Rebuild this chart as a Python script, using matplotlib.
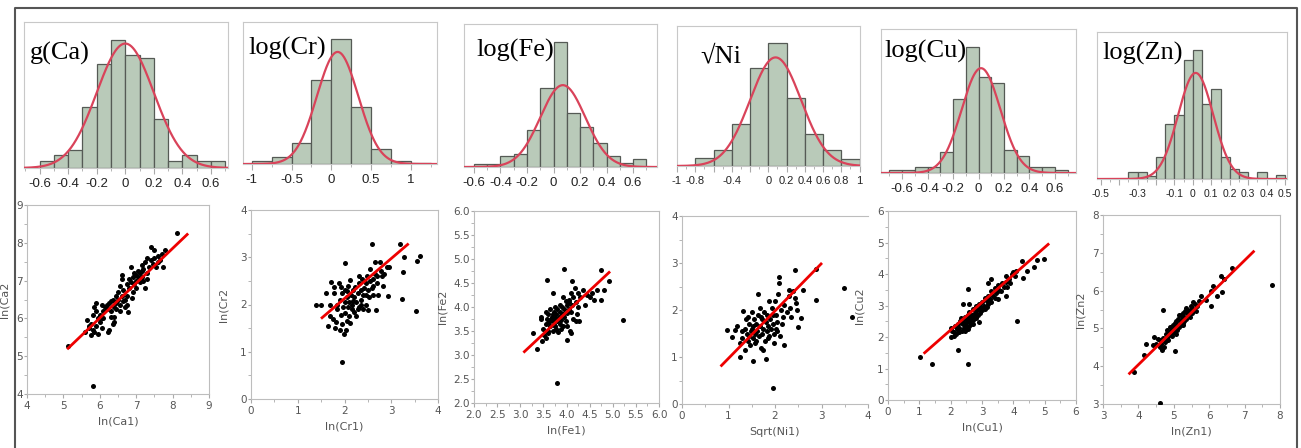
import numpy as np
import matplotlib
matplotlib.use("Agg")
import matplotlib.pyplot as plt
from matplotlib.ticker import MultipleLocator

# ---- histogram data (relative bar heights) ----
hist_titles = ["g(Ca)", "log(Cr)", "log(Fe)", "\u221aNi", "log(Cu)", "log(Zn)"]
hist_bin_start = [-0.6, -1.0, -0.6, -0.8, -0.7, -0.35]
hist_bin_width = [0.1, 0.25, 0.1, 0.2, 0.1, 0.05]
ca_hist = [20, 40, 55, 185, 312, 385, 340, 332, 148, 20, 40, 20, 20]
cr_hist = [9, 20, 62, 252, 375, 170, 46, 9, 4]
fe_hist = [8, 8, 32, 38, 110, 237, 375, 162, 120, 72, 32, 13, 24]
ni_hist = [25, 49, 127, 292, 369, 204, 97, 49, 20]
cu_hist = [10, 10, 18, 18, 63, 220, 376, 286, 268, 70, 51, 18, 18, 10]
zn_hist = [22, 22, 10, 65, 165, 192, 359, 387, 225, 272, 65, 29, 22, 0, 22, 0, 12]
hist_heights = [ca_hist, cr_hist, fe_hist, ni_hist, cu_hist, zn_hist]
# fitted normal curves
norm_mu = [0.0, 0.08, 0.07, 0.08, 0.02, 0.015]
norm_sigma = [0.2, 0.26, 0.17, 0.28, 0.152, 0.095]
norm_peak = [375, 337, 245, 325, 313, 319]
hist_xlim = [(-0.71, 0.72), (-1.11, 1.33), (-0.675, 0.78), (-1.0, 1.005), (-0.765, 0.765), (-0.52, 0.51)]
hist_ytop = [440, 427, 428, 419, 430, 442]
hist_ticks = [
    [-0.6, -0.4, -0.2, 0, 0.2, 0.4, 0.6],
    [-1, -0.5, 0, 0.5, 1],
    [-0.6, -0.4, -0.2, 0, 0.2, 0.4, 0.6],
    [-1, -0.8, -0.6, -0.4, -0.2, 0, 0.2, 0.4, 0.6, 0.8, 1],
    [-0.6, -0.4, -0.2, 0, 0.2, 0.4, 0.6],
    [-0.5, -0.4, -0.3, -0.2, -0.1, 0, 0.1, 0.2, 0.3, 0.4, 0.5],
]
hist_ticklabels = [
    ["-0.6", "-0.4", "-0.2", "0", "0.2", "0.4", "0.6"],
    ["-1", "-0.5", "0", "0.5", "1"],
    ["-0.6", "-0.4", "-0.2", "0", "0.2", "0.4", "0.6"],
    ["-1", "-0.8", "", "-0.4", "", "0", "0.2", "0.4", "0.6", "0.8", "1"],
    ["-0.6", "-0.4", "-0.2", "0", "0.2", "0.4", "0.6"],
    ["-0.5", "", "-0.3", "", "-0.1", "0", "0.1", "0.2", "0.3", "0.4", "0.5"],
]
hist_tick_size = [9.5, 9.5, 9.5, 8, 9.5, 7.5]

# ---- scatter data ----
ca_pts = [(5.13, 5.26), (5.82, 4.2), (8.12, 8.25), (5.6, 5.65), (5.65, 5.95), (5.7, 5.75), (5.75, 5.85),
          (5.8, 5.7), (5.8, 6.1), (5.85, 6.3), (5.85, 5.65), (5.9, 6.4), (5.9, 5.8), (5.95, 6.0), (5.95, 5.6),
          (6.0, 5.9), (6.0, 6.1), (6.05, 6.35), (6.05, 5.75), (6.1, 6.2), (6.1, 6.0), (6.15, 6.3), (6.2, 6.25),
          (6.22, 5.65), (6.25, 5.7), (6.25, 6.4), (6.3, 6.2), (6.3, 6.05), (6.35, 6.5), (6.35, 5.85), (6.4, 5.9),
          (6.4, 6.3), (6.45, 6.6), (6.45, 6.4), (6.5, 6.5), (6.5, 6.7), (6.55, 6.35), (6.55, 6.85), (6.6, 6.6),
          (6.6, 7.15), (6.6, 7.05), (6.65, 6.75), (6.7, 6.5), (6.7, 6.3), (6.75, 6.9), (6.75, 6.6), (6.78, 6.18),
          (6.8, 6.8), (6.85, 6.95), (6.85, 7.35), (6.9, 7.1), (6.9, 6.7), (6.95, 6.9), (7.0, 7.0), (7.0, 6.8),
          (7.05, 7.25), (7.05, 7.1), (7.1, 7.2), (7.1, 6.95), (7.15, 7.4), (7.15, 7.1), (7.2, 7.3), (7.2, 7.0),
          (7.25, 7.5), (7.25, 6.8), (7.3, 7.6), (7.3, 7.2), (7.35, 7.35), (7.4, 7.9), (7.4, 7.55), (7.45, 7.45),
          (7.5, 7.6), (7.5, 7.8), (7.55, 7.35), (7.6, 7.65), (7.65, 7.55), (7.7, 7.7), (7.75, 7.35), (7.8, 7.8),
          (6.2, 6.35), (6.05, 6.0), (5.9, 6.2), (6.3, 6.45), (6.45, 6.25), (6.65, 6.45), (7.0, 7.15), (7.15, 7.25),
          (6.95, 7.2), (6.8, 7.05), (5.7, 5.8), (5.75, 5.55), (6.4, 6.05), (6.55, 6.2), (6.75, 6.35), (6.88, 6.55),
          (7.3, 7.05), (7.6, 7.5)]
cr_pts = [(1.4, 2.0), (1.5, 2.0), (1.94, 0.78), (2.58, 3.28), (3.18, 3.28), (2.02, 2.87), (3.22, 2.12),
          (3.25, 2.68), (3.28, 3.0), (3.52, 1.87), (3.55, 2.92), (3.62, 3.02), (2.68, 1.88), (2.92, 2.18),
          (2.9, 2.8), (2.95, 2.8), (1.65, 1.55), (1.7, 1.75), (1.72, 2.48), (1.75, 1.7), (1.78, 2.25), (1.8, 1.5),
          (1.82, 1.62), (1.85, 2.0), (1.85, 1.9), (1.88, 2.45), (1.9, 1.45), (1.9, 2.1), (1.92, 2.38), (1.93, 1.78),
          (1.95, 1.58), (1.95, 2.25), (1.97, 1.95), (1.98, 1.38), (2.0, 1.82), (2.0, 2.05), (2.02, 2.3),
          (2.03, 1.45), (2.05, 1.65), (2.05, 2.15), (2.07, 1.95), (2.08, 2.4), (2.1, 2.05), (2.1, 1.75),
          (2.12, 2.52), (2.13, 2.2), (2.15, 1.9), (2.15, 2.0), (2.18, 2.3), (2.2, 1.85), (2.2, 2.15), (2.22, 2.38),
          (2.25, 2.05), (2.25, 1.75), (2.28, 2.25), (2.3, 2.6), (2.3, 1.95), (2.32, 2.45), (2.35, 2.1), (2.35, 2.3),
          (2.38, 2.55), (2.4, 1.9), (2.4, 2.2), (2.42, 2.35), (2.45, 2.45), (2.45, 2.0), (2.48, 2.6), (2.5, 2.3),
          (2.5, 1.88), (2.52, 2.15), (2.55, 2.5), (2.55, 2.75), (2.58, 2.35), (2.6, 2.2), (2.62, 2.55),
          (2.65, 2.65), (2.65, 2.9), (2.7, 2.45), (2.7, 2.6), (2.72, 2.2), (2.75, 2.9), (2.78, 2.7), (2.8, 2.6),
          (2.82, 2.4), (2.85, 2.65), (1.6, 2.25), (1.68, 2.0), (1.78, 2.38), (2.06, 2.28), (2.18, 2.08),
          (2.28, 1.9), (2.36, 2.0), (2.46, 2.2), (2.6, 2.4), (2.12, 1.6)]
fe_pts = [(3.8, 2.42), (5.22, 3.73), (3.95, 4.8), (3.58, 4.57), (4.92, 4.55), (4.75, 4.77), (3.37, 3.12),
          (3.28, 3.45), (4.0, 3.32), (4.75, 4.14), (4.8, 4.35), (3.48, 3.3), (3.7, 4.3), (3.45, 3.75),
          (3.45, 3.8), (3.5, 3.55), (3.52, 3.42), (3.55, 3.65), (3.55, 3.9), (3.58, 3.75), (3.6, 3.5), (3.6, 3.85),
          (3.62, 3.68), (3.65, 3.6), (3.65, 3.95), (3.68, 3.8), (3.7, 3.5), (3.7, 3.7), (3.72, 3.9), (3.73, 3.62),
          (3.75, 3.78), (3.75, 4.0), (3.78, 3.55), (3.78, 3.85), (3.8, 3.7), (3.8, 3.95), (3.82, 3.48),
          (3.83, 3.8), (3.85, 3.65), (3.85, 4.05), (3.87, 3.9), (3.88, 3.72), (3.9, 3.85), (3.9, 4.0), (3.92, 3.6),
          (3.93, 4.2), (3.95, 3.8), (3.95, 3.95), (3.98, 3.7), (4.0, 4.05), (4.0, 3.88), (4.02, 3.6), (4.05, 4.15),
          (4.05, 3.95), (4.08, 3.5), (4.1, 4.3), (4.1, 3.9), (4.12, 4.05), (4.15, 4.2), (4.15, 3.75), (4.18, 4.4),
          (4.2, 4.1), (4.22, 3.85), (4.25, 4.3), (4.25, 4.0), (4.28, 3.7), (4.3, 4.2), (4.35, 4.35), (4.4, 4.05),
          (4.45, 4.25), (4.5, 4.2), (4.55, 4.3), (4.6, 4.15), (4.65, 4.35), (4.12, 4.55), (3.55, 3.35),
          (3.6, 3.45), (3.7, 3.85), (3.92, 3.85), (4.06, 4.1), (3.98, 4.12), (4.1, 3.45), (4.2, 3.7),
          (3.65, 3.72), (3.75, 3.6), (3.88, 3.55)]
ni_pts = [(1.96, 0.33), (3.48, 2.47), (3.65, 1.85), (2.43, 2.85), (2.88, 2.88), (2.88, 2.22), (0.97, 1.57),
          (1.08, 1.43), (1.25, 0.99), (1.52, 0.92), (1.8, 0.96), (2.2, 1.26), (2.5, 1.64), (2.55, 1.83),
          (2.6, 2.42), (2.08, 2.7), (2.08, 2.57), (1.63, 2.35), (1.15, 1.57), (1.18, 1.65), (1.25, 1.3),
          (1.28, 1.55), (1.3, 1.4), (1.32, 1.97), (1.35, 1.6), (1.35, 1.15), (1.38, 1.8), (1.4, 1.5), (1.42, 1.35),
          (1.43, 1.85), (1.45, 1.7), (1.47, 1.25), (1.48, 1.55), (1.5, 1.95), (1.52, 1.4), (1.53, 1.65),
          (1.55, 1.8), (1.57, 1.5), (1.58, 1.3), (1.6, 1.7), (1.62, 1.55), (1.63, 1.9), (1.65, 1.45), (1.67, 2.05),
          (1.68, 1.65), (1.7, 1.2), (1.72, 1.8), (1.73, 1.5), (1.75, 1.6), (1.77, 1.95), (1.78, 1.35), (1.8, 1.75),
          (1.82, 1.55), (1.83, 1.9), (1.85, 1.65), (1.87, 2.2), (1.88, 1.45), (1.9, 1.8), (1.92, 1.6), (1.93, 2.05),
          (1.95, 1.7), (1.97, 1.3), (1.98, 1.5), (2.0, 2.2), (2.02, 1.9), (2.03, 1.6), (2.05, 1.75), (2.07, 2.35),
          (2.1, 1.45), (2.12, 2.0), (2.15, 1.7), (2.18, 1.85), (2.2, 2.1), (2.25, 1.95), (2.3, 2.3), (2.32, 2.05),
          (2.35, 1.85), (2.38, 2.4), (2.42, 2.25), (2.45, 2.15), (2.48, 2.0), (2.3, 2.42), (1.75, 1.15),
          (1.7, 1.85), (1.6, 1.35), (1.45, 1.45), (1.5, 1.6), (1.85, 1.4), (1.95, 1.9), (2.05, 1.55)]
cu_pts = [(1.03, 1.38), (1.4, 1.13), (2.55, 1.14), (2.22, 1.58), (4.12, 2.5), (2.56, 3.53), (2.4, 3.04),
          (2.58, 3.06), (4.98, 4.48), (4.75, 4.43), (4.65, 4.23), (4.3, 3.88), (4.28, 4.42), (4.45, 4.08),
          (2.02, 2.0), (2.1, 2.02), (2.9, 2.48), (3.3, 3.85), (3.2, 3.7), (2.0, 2.3), (2.05, 2.2), (2.1, 2.15),
          (2.15, 2.35), (2.18, 2.1), (2.2, 2.25), (2.22, 2.4), (2.25, 2.15), (2.28, 2.3), (2.3, 2.5), (2.32, 2.6),
          (2.35, 2.2), (2.38, 2.4), (2.4, 2.55), (2.42, 2.3), (2.45, 2.65), (2.48, 2.45), (2.5, 2.35),
          (2.52, 2.55), (2.55, 2.7), (2.55, 2.25), (2.58, 2.5), (2.6, 2.8), (2.62, 2.6), (2.65, 2.4), (2.68, 2.7),
          (2.7, 2.55), (2.72, 2.9), (2.75, 2.65), (2.78, 2.75), (2.8, 3.0), (2.82, 2.6), (2.85, 2.85), (2.88, 2.7),
          (2.9, 3.05), (2.92, 2.9), (2.95, 2.75), (3.0, 3.1), (3.0, 2.85), (3.05, 3.0), (3.08, 3.25), (3.1, 2.9),
          (3.15, 3.15), (3.18, 3.05), (3.2, 3.3), (3.25, 3.2), (3.3, 3.45), (3.3, 3.1), (3.35, 3.3), (3.4, 3.55),
          (3.45, 3.4), (3.5, 3.65), (3.5, 3.2), (3.55, 3.5), (3.6, 3.45), (3.65, 3.7), (3.7, 3.6), (3.75, 3.95),
          (3.78, 3.75), (3.8, 3.6), (3.85, 3.85), (3.9, 3.7), (3.95, 4.0), (4.0, 4.05), (4.05, 3.95), (4.1, 4.1),
          (3.78, 3.3), (3.5, 3.45), (2.7, 2.4), (2.45, 2.2), (2.35, 2.45), (3.15, 2.95), (2.98, 2.95),
          (2.6, 2.35), (3.4, 3.25)]
zn_pts = [(4.62, 3.03), (7.78, 6.15), (3.88, 3.85), (4.7, 5.48), (5.03, 4.4), (6.65, 6.6), (6.33, 6.38),
          (6.35, 5.95), (6.1, 6.12), (6.05, 6.0), (6.22, 5.85), (6.05, 5.6), (5.9, 5.75), (5.78, 5.85),
          (4.15, 4.3), (4.22, 4.58), (4.4, 4.55), (4.68, 4.42), (4.62, 4.5), (4.45, 4.78), (6.42, 6.3),
          (4.5, 4.6), (4.55, 4.72), (4.6, 4.68), (4.65, 4.58), (4.7, 4.75), (4.75, 4.65), (4.78, 4.85), (4.8, 4.75),
          (4.82, 4.95), (4.85, 4.8), (4.88, 4.9), (4.9, 5.05), (4.92, 4.85), (4.95, 4.95), (4.97, 5.1), (5.0, 4.9),
          (5.0, 5.05), (5.03, 5.15), (5.05, 5.0), (5.07, 4.85), (5.1, 5.1), (5.12, 5.25), (5.15, 5.05),
          (5.17, 5.2), (5.2, 5.35), (5.2, 5.1), (5.22, 5.25), (5.25, 5.4), (5.27, 5.15), (5.3, 5.3), (5.32, 5.45),
          (5.35, 5.25), (5.37, 5.4), (5.4, 5.5), (5.42, 5.35), (5.45, 5.45), (5.48, 5.6), (5.5, 5.4), (5.52, 5.55),
          (5.55, 5.7), (5.58, 5.5), (5.6, 5.65), (5.62, 5.45), (5.65, 5.6), (5.7, 5.72), (5.05, 5.2), (4.95, 4.8),
          (5.15, 5.35), (5.25, 5.1), (4.85, 4.7), (5.35, 5.55), (5.45, 5.3), (4.72, 4.5), (5.1, 4.95), (5.3, 5.2)]
scatter_pts = [ca_pts, cr_pts, fe_pts, ni_pts, cu_pts, zn_pts]
# regression line end points
fit_x = [(5.13, 8.40), (1.52, 3.35), (3.09, 4.92), (0.85, 2.99), (1.17, 5.11), (3.75, 7.25)]
fit_y = [(5.21, 8.22), (1.72, 3.27), (3.07, 4.72), (0.82, 2.98), (1.50, 4.94), (3.81, 7.03)]
scatter_lim = [(4, 9), (0, 4), (2, 6), (0, 4), (0, 6), (3, 8)]
scatter_major = [1, 1, 0.5, 1, 1, 1]
x_labels = ["ln(Ca1)", "ln(Cr1)", "ln(Fe1)", "Sqrt(Ni1)", "ln(Cu1)", "ln(Zn1)"]
y_labels = ["ln(Ca2", "ln(Cr2", "ln(Fe2", "", "ln(Cu2", "ln(Zn2"]

W, H = 1301, 448
fig = plt.figure(figsize=(W / 100, H / 100), dpi=100)


def px_axes(l, r, t, b):
    return fig.add_axes([l / W, 1 - b / H, (r - l) / W, (b - t) / H])


hist_box = [(24, 228, 22, 168), (243, 437, 22, 164), (464, 657, 24, 167),
            (677, 860, 26, 166), (881, 1076, 29, 173), (1097, 1287, 32, 179)]
title_pos = [(0.03, 0.74), (0.026, 0.77), (0.062, 0.77), (0.126, 0.74), (0.02, 0.80), (0.03, 0.81)]
scat_box = [(27, 209, 205, 394), (251, 438, 210, 399), (474, 659, 211, 403),
            (682, 868, 216, 404), (888, 1076, 211, 400), (1103, 1280, 215, 404)]
ylab_x = [-17, -22, -26, -20, -24, -18]

for i in range(6):
    # histogram with fitted normal curve
    ax = px_axes(*hist_box[i])
    h = hist_heights[i]
    edges = hist_bin_start[i] + hist_bin_width[i] * np.arange(len(h))
    ax.bar(edges, h, width=hist_bin_width[i], align='edge', color='#b9cab9',
           edgecolor='#555a55', linewidth=0.9, zorder=2)
    xs = np.linspace(hist_xlim[i][0], hist_xlim[i][1], 400)
    ys = norm_peak[i] * np.exp(-0.5 * ((xs - norm_mu[i]) / norm_sigma[i]) ** 2)
    ax.plot(xs, ys, color='#d9435a', linewidth=1.6, zorder=3)
    ax.set_xlim(hist_xlim[i])
    ax.set_ylim(0, hist_ytop[i])
    ax.set_yticks([])
    ax.set_xticks(hist_ticks[i])
    ax.set_xticklabels(hist_ticklabels[i], fontfamily='Liberation Sans',
                       fontsize=hist_tick_size[i], color='#222222')
    ax.xaxis.set_minor_locator(MultipleLocator(hist_bin_width[i] if i != 3 else 0.1))
    ax.tick_params(axis='x', which='both', direction='out', color='#aaaaaa', length=4, pad=3)
    ax.tick_params(axis='x', which='minor', length=2.5)
    for s in ax.spines.values():
        s.set_color('#c8c8c8')
    ax.text(title_pos[i][0], title_pos[i][1], hist_titles[i], transform=ax.transAxes,
            fontsize=19, fontfamily=['Liberation Serif', 'DejaVu Serif'], va='baseline',
            ha='left', color='black', zorder=5)

    # scatter with regression line
    sx = px_axes(*scat_box[i])
    px = [p[0] for p in scatter_pts[i]]
    py = [p[1] for p in scatter_pts[i]]
    sx.scatter(px, py, s=13, c='black', linewidths=0, zorder=3)
    sx.plot(fit_x[i], fit_y[i], color='#ee0000', linewidth=2, zorder=4)
    sx.set_xlim(scatter_lim[i])
    sx.set_ylim(scatter_lim[i])
    sx.xaxis.set_major_locator(MultipleLocator(scatter_major[i]))
    sx.yaxis.set_major_locator(MultipleLocator(scatter_major[i]))
    sx.xaxis.set_minor_locator(MultipleLocator(scatter_major[i] / 2))
    sx.yaxis.set_minor_locator(MultipleLocator(scatter_major[i] / 2))
    sx.tick_params(which='both', direction='out', color='#aaaaaa', labelsize=7.5,
                   labelcolor='#555555', length=3, pad=2)
    sx.tick_params(axis='y', which='both', length=2, pad=1)
    sx.tick_params(which='minor', length=2)
    for s in sx.spines.values():
        s.set_color('#bdbdbd')
    if i == 3:
        sx.spines['right'].set_visible(False)
    sx.set_xlabel(x_labels[i], fontsize=8, color='#555555', labelpad=4)
    if y_labels[i]:
        sx.set_ylabel(y_labels[i], fontsize=8, color='#555555')
        bw = scat_box[i][1] - scat_box[i][0]
        sx.yaxis.set_label_coords(ylab_x[i] / bw, 0.5)

# outer frame around the panels
fig.add_artist(plt.Line2D([15 / W, 15 / W, 1297 / W, 1297 / W], [0, 1 - 8 / H, 1 - 8 / H, 0],
                          transform=fig.transFigure, color='#555555', linewidth=1.5))

fig.savefig('out.png', dpi=100)
